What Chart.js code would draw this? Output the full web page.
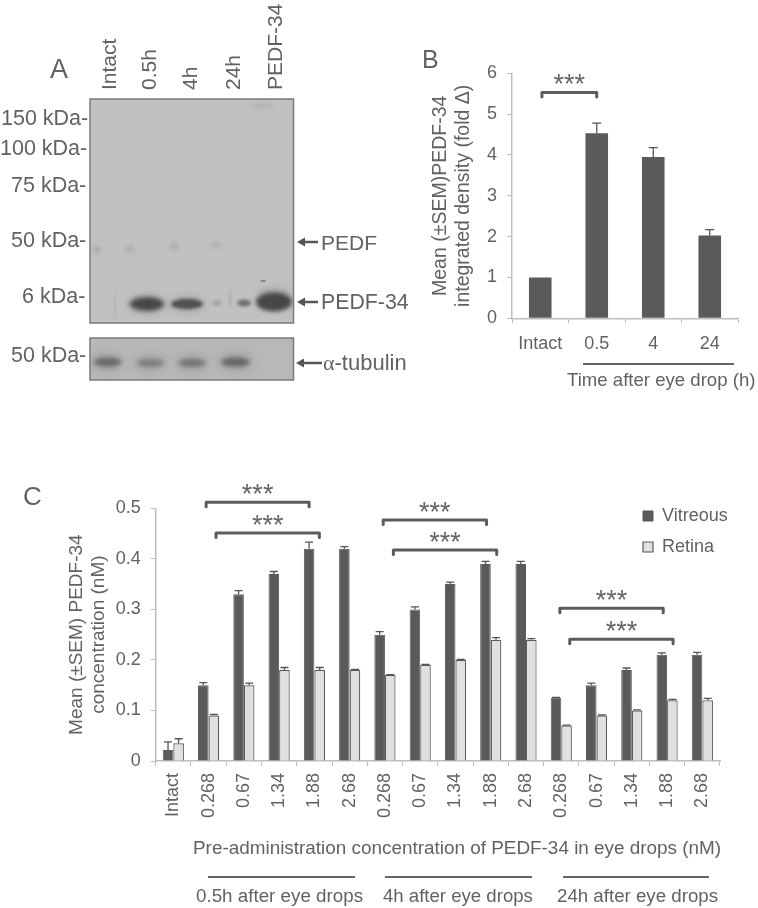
<!DOCTYPE html>
<html>
<head>
<meta charset="utf-8">
<title>PEDF-34</title>
<script src="https://cdn.jsdelivr.net/npm/chart.js@4"></script>
<style>
  html, body { margin: 0; padding: 0; background: #fff; }
  #page { position: relative; width: 758px; height: 908px; overflow: hidden; font-family: "Liberation Sans", sans-serif; color: #626262; filter: blur(0.35px); }
  #page canvas { position: absolute; }
  .txt { position: absolute; white-space: nowrap; line-height: 1; }
  .rule { position: absolute; height: 2px; background: #666; }
</style>
</head>
<body>
<div id="page">
  <canvas id="blot" width="758" height="400" style="left:0;top:0"></canvas>
  <canvas id="chartB" width="338" height="360" style="left:420px;top:40px"></canvas>
  <canvas id="chartC" width="758" height="438" style="left:0;top:470px"></canvas>
</div>
<script>
// panel B
var timeLabels = ['Intact', '0.5', '4', '24'];
var densityValues = [1, 4.53, 3.95, 2.03];
var densityErrors = [0, 0.25, 0.23, 0.14];

// panel C
var doseLabels = ['Intact', '0.268', '0.67', '1.34', '1.88', '2.68', '0.268', '0.67', '1.34', '1.88', '2.68', '0.268', '0.67', '1.34', '1.88', '2.68'];
var vitreous = [0.022, 0.15, 0.33, 0.37, 0.42, 0.42, 0.25, 0.30, 0.35, 0.39, 0.39, 0.125, 0.15, 0.18, 0.21, 0.21];
var vitreousErr = [0.016, 0.005, 0.007, 0.005, 0.013, 0.004, 0.006, 0.005, 0.004, 0.005, 0.005, 0.001, 0.004, 0.004, 0.004, 0.005];
var retina = [0.035, 0.09, 0.15, 0.18, 0.18, 0.18, 0.17, 0.19, 0.20, 0.24, 0.24, 0.07, 0.09, 0.10, 0.12, 0.12];
var retinaErr = [0.009, 0.002, 0.004, 0.005, 0.005, 0.001, 0.001, 0.001, 0.001, 0.004, 0.002, 0.001, 0.001, 0.001, 0.002, 0.004];

// significance brackets, in category index / axis value
var bracketFromC = [0.93, 1.21, 5.95, 6.24, 10.96, 11.24];
var bracketToC = [3.85, 4.14, 8.88, 9.17, 13.89, 14.17];
var bracketLevelC = [0.512, 0.451, 0.477, 0.4175, 0.302, 0.241];
var bracketFromB = [0.03];
var bracketToB = [1.0];
var bracketLevelB = [5.53];

var DARK = '#5a5a5a';
var LIGHT = '#e0e0e0';
var AXIS = '#bdbdbd';
var TEXT = '#626262';

Chart.defaults.font.family = '"Liberation Sans", sans-serif';
Chart.defaults.font.size = 18;
Chart.defaults.color = TEXT;
Chart.defaults.animation = false;

// error bars + brackets, drawn through the chart's scales
var extras = {
  id: 'extras',
  afterDatasetsDraw: function (chart, args, opts) {
    var ctx = chart.ctx, x = chart.scales.x, y = chart.scales.y;
    ctx.save();
    chart.data.datasets.forEach(function (ds, i) {
      var bars = chart.getDatasetMeta(i).data;
      ctx.strokeStyle = '#555';
      ctx.lineWidth = 1.3;
      ds.errors.forEach(function (e, j) {
        if (!e) return;
        var bx = bars[j].x, y0 = y.getPixelForValue(ds.data[j]), y1 = y.getPixelForValue(ds.data[j] + e);
        ctx.beginPath();
        ctx.moveTo(bx, y0); ctx.lineTo(bx, y1);
        ctx.moveTo(bx - opts.cap, y1); ctx.lineTo(bx + opts.cap, y1);
        ctx.stroke();
      });
    });
    ctx.strokeStyle = '#5c5c5c';
    ctx.lineWidth = 3;
    ctx.lineJoin = 'round';
    ctx.lineCap = 'round';
    ctx.fillStyle = '#666';
    ctx.font = '27px "Liberation Sans"';
    ctx.textAlign = 'center';
    opts.from.forEach(function (f, k) {
      var a = x.getPixelForValue(f), b = x.getPixelForValue(opts.to[k]), t = y.getPixelForValue(opts.level[k]);
      ctx.beginPath();
      ctx.moveTo(a, t + 4.5); ctx.lineTo(a, t); ctx.lineTo(b, t); ctx.lineTo(b, t + 4.5);
      ctx.stroke();
      ctx.fillText('***', (a + b) / 2, t + 1);
    });
    ctx.restore();
  },
  // move the legend to the top right of panel C
  afterLayout: function (chart, args, opts) {
    if (opts.legendLeft) {
      chart.legend.left = opts.legendLeft;
      chart.legend.top = opts.legendTop;
      chart.legend.right = chart.width;
    }
  }
};

function axisX(height, rotation, pad) {
  return {
    offset: true,
    grid: { display: true, drawOnChartArea: false, drawTicks: true, tickLength: 5, color: AXIS },
    border: { color: AXIS, width: 1.5 },
    ticks: { autoSkip: false, minRotation: rotation, maxRotation: rotation, padding: pad, color: TEXT },
    afterFit: function (s) { s.height = height; }
  };
}

function axisY(width, max, step, lines, titlePad, titleSize) {
  return {
    min: 0, max: max,
    grid: { display: true, drawOnChartArea: false, drawTicks: true, tickLength: 5, color: AXIS },
    border: { color: AXIS, width: 1.5 },
    ticks: { stepSize: step, padding: 10, color: TEXT },
    title: { display: true, text: lines, font: { size: titleSize }, color: TEXT, padding: { top: titlePad, bottom: 0 } },
    afterFit: function (s) { s.width = width; }
  };
}

new Chart(document.getElementById('chartB'), {
  type: 'bar',
  data: {
    labels: timeLabels,
    datasets: [{ label: 'PEDF-34', data: densityValues, errors: densityErrors, backgroundColor: DARK, barPercentage: 0.4, categoryPercentage: 1 }]
  },
  options: {
    responsive: false,
    layout: { padding: { top: 33.3, right: 20 } },
    scales: {
      x: axisX(81.7, 0, 10),
      y: axisY(92, 6, 1, ['Mean (\u00b1SEM)PEDF-34', 'integrated density (fold \u0394)'], 9, 19.5)
    },
    plugins: {
      legend: { display: false },
      tooltip: { enabled: false },
      extras: { cap: 4.5, from: bracketFromB, to: bracketToB, level: bracketLevelB }
    }
  },
  plugins: [extras]
});

new Chart(document.getElementById('chartC'), {
  type: 'bar',
  data: {
    labels: doseLabels,
    datasets: [
      { label: 'Vitreous', data: vitreous, errors: vitreousErr, backgroundColor: DARK, borderColor: DARK, borderWidth: 1, barPercentage: 1, categoryPercentage: 0.6 },
      { label: 'Retina', data: retina, errors: retinaErr, backgroundColor: LIGHT, borderColor: '#5a5a5a', borderWidth: 1.2, barPercentage: 1, categoryPercentage: 0.6 }
    ]
  },
  options: {
    responsive: false,
    layout: { padding: { top: 38.3, right: 38 } },
    scales: {
      x: axisX(147, 90, 7),
      y: axisY(155.7, 0.5, 0.1, ['Mean (\u00b1SEM) PEDF-34', 'concentration (nM)'], 65, 19)
    },
    plugins: {
      legend: {
        position: 'chartArea',
        align: 'start',
        labels: { boxWidth: 10, boxHeight: 10, padding: 13, color: TEXT, font: { size: 18 } }
      },
      tooltip: { enabled: false },
      extras: { cap: 4, from: bracketFromC, to: bracketToC, level: bracketLevelC, legendLeft: 630, legendTop: 24 }
    }
  },
  plugins: [extras]
});

// panel A: the blot images
function drawBlot() {
  var ctx = document.getElementById('blot').getContext('2d');

  function band(x, y, w, h, col, blur) {
    ctx.save();
    ctx.filter = 'blur(' + blur + 'px)';
    ctx.fillStyle = col;
    ctx.beginPath();
    ctx.ellipse(x, y, w / 2, h / 2, 0, 0, Math.PI * 2);
    ctx.fill();
    ctx.restore();
  }
  function panel(x, y, w, h, fill, bands) {
    ctx.save();
    ctx.beginPath(); ctx.rect(x, y, w, h); ctx.clip();
    ctx.fillStyle = fill; ctx.fillRect(x, y, w, h);
    bands();
    ctx.restore();
    ctx.strokeStyle = '#7a7a7a'; ctx.lineWidth = 1.5;
    ctx.strokeRect(x, y, w, h);
  }
  function arrow(x0, x1, y) {
    ctx.strokeStyle = '#555'; ctx.fillStyle = '#555'; ctx.lineWidth = 2.5;
    ctx.beginPath(); ctx.moveTo(x0 + 6, y); ctx.lineTo(x1, y); ctx.stroke();
    ctx.beginPath(); ctx.moveTo(x0, y); ctx.lineTo(x0 + 8, y - 4.5); ctx.lineTo(x0 + 8, y + 4.5); ctx.fill();
  }

  panel(90, 99, 203.5, 224, '#c1c1c1', function () {
    // faint PEDF row
    band(97, 250, 7, 7, '#a8a8a8', 2);
    band(130, 249, 9, 8, '#aeaeae', 2);
    band(174, 246, 9, 8, '#aeaeae', 2);
    band(216, 245, 8, 7, '#aeaeae', 2);
    band(262, 106, 24, 5, '#b2b2b2', 2);
    band(263, 281, 6, 2, '#808080', 0.6);
    band(230, 298, 3, 20, '#b0b0b0', 1);
    band(115, 305, 2, 30, '#b4b4b4', 0.8);
    // PEDF-34 bands
    band(147, 304, 38, 18, '#9a9a9a', 3);
    band(147, 304, 33, 13, '#474747', 2);
    band(187, 304, 36, 15, '#9e9e9e', 3);
    band(187, 304, 31, 10, '#515151', 1.8);
    band(217, 303, 9, 5, '#a0a0a0', 1.5);
    band(244, 303, 14, 7, '#707070', 1.5);
    band(274, 294, 34, 12, '#a6a6a6', 3);
    band(274, 302, 36, 19, '#474747', 2);
  });
  panel(90, 338, 203.5, 42, '#b8b8b8', function () {
    band(107.5, 362, 34, 20, '#a6a6a6', 4);
    band(150.5, 363, 34, 20, '#aaaaaa', 4);
    band(192, 363, 34, 20, '#a8a8a8', 4);
    band(235.5, 362, 35, 20, '#a4a4a4', 4);
    band(107.5, 362, 27, 9, '#6a6a6a', 2);
    band(150.5, 363, 27, 8, '#7c7c7c', 2);
    band(192, 363, 27, 8, '#747474', 2);
    band(235.5, 362, 28, 9, '#666', 2);
  });
  arrow(297, 318, 242);
  arrow(297, 318, 302);
  arrow(296, 322, 363);
}
drawBlot();

// free text around the charts
var page = document.getElementById('page');
function text(str, x, y, size, vertical) {
  var el = document.createElement('div');
  el.className = 'txt';
  el.innerHTML = str;
  el.style.left = x + 'px';
  el.style.top = y + 'px';
  el.style.fontSize = size + 'px';
  if (vertical) {
    el.style.transformOrigin = '0 0';
    el.style.transform = 'rotate(-90deg)';
  }
  page.appendChild(el);
}
function rule(x0, x1, y) {
  var el = document.createElement('div');
  el.className = 'rule';
  el.style.left = x0 + 'px';
  el.style.top = y + 'px';
  el.style.width = (x1 - x0) + 'px';
  page.appendChild(el);
}

text('A', 50, 56, 27);
text('B', 422, 47, 25);
text('C', 23, 483, 26);

text('Intact', 97.5, 90, 21, true);
text('0.5h', 137.5, 90, 21, true);
text('4h', 178.5, 90, 21, true);
text('24h', 221.5, 90, 21, true);
text('PEDF-34', 263.5, 90, 21, true);

text('150 kDa-', 1, 108, 21.5);
text('100 kDa-', 0, 138, 21.5);
text('75 kDa-', 11, 175, 21.5);
text('50 kDa-', 11, 230, 21.5);
text('6 kDa-', 22, 286, 21.5);
text('50 kDa-', 11, 345, 21.5);
text('PEDF', 321, 232, 21);
text('PEDF-34', 321, 292, 21.3);
text('<span style="font-family:\'Liberation Serif\'">\u03b1</span>-tubulin', 323, 352, 22);

text('Time after eye drop (h)', 567, 371, 18.6);
rule(583, 734, 363);

text('Pre-administration concentration of PEDF-34 in eye drops (nM)', 193, 839, 18.9);
rule(208, 355, 876);
rule(385, 532, 876);
rule(563, 709, 876);
text('0.5h after eye drops', 196, 887, 18.8);
text('4h after eye drops', 383, 887, 18.6);
text('24h after eye drops', 557, 887, 18.7);
</script>
</body>
</html>
